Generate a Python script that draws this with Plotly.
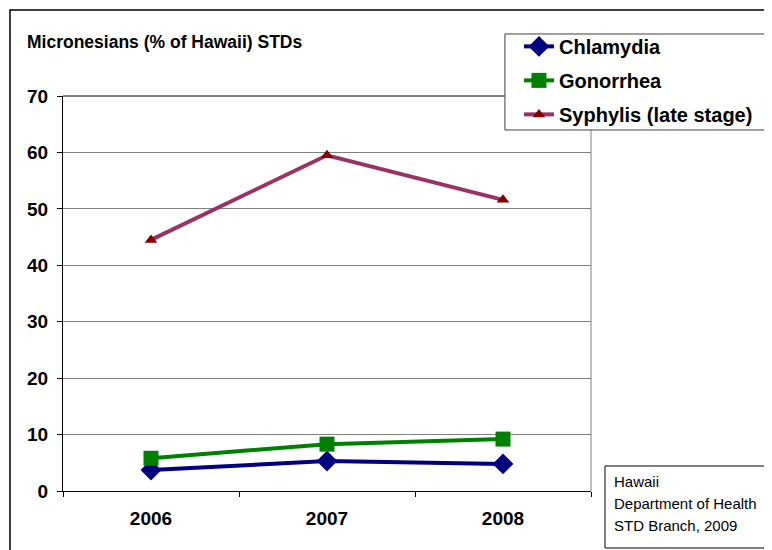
import plotly.graph_objects as go

years = ["2006", "2007", "2008"]
chlamydia = [3.7, 5.3, 4.8]
gonorrhea = [5.8, 8.3, 9.2]
syphilis = [44.5, 59.5, 51.6]
y_ticks = [0, 10, 20, 30, 40, 50, 60, 70]
source_lines = ["Hawaii", "Department of Health", "STD Branch, 2009"]

FONT = "Arial, Liberation Sans, sans-serif"

fig = go.Figure()

fig.add_trace(go.Scatter(
    x=years, y=chlamydia, name="Chlamydia", mode="lines+markers",
    line=dict(color="#000080", width=4),
    marker=dict(symbol="diamond", size=16, color="#000080"),
    legendgroup="a",
))
fig.add_trace(go.Scatter(
    x=years, y=gonorrhea, name="Gonorrhea", mode="lines+markers",
    line=dict(color="#008000", width=4),
    marker=dict(symbol="square", size=15, color="#008000"),
    legendgroup="b",
))
fig.add_trace(go.Scatter(
    x=years, y=syphilis, name="Syphylis (late stage)", mode="lines+markers",
    line=dict(color="#993366", width=4),
    marker=dict(symbol="triangle-up", size=11, color="#800000"),
    legendgroup="c",
))

# outer frame, right/top edges of plot area, legend box, source box
shapes = [
    dict(type="rect", xref="paper", yref="paper", x0=-0.1004, y0=-1.0, x1=2.0, y1=1.2177,
         line=dict(color="black", width=1.5), layer="below"),
    dict(type="line", xref="paper", yref="paper", x0=1, x1=1, y0=0, y1=1,
         line=dict(color="#808080", width=1)),
    dict(type="line", xref="paper", yref="paper", x0=0, x1=1, y0=1, y1=1,
         line=dict(color="black", width=1)),
    dict(type="rect", xref="paper", yref="paper", x0=0.837, y0=0.914, x1=1.339, y1=1.157,
         line=dict(color="#404040", width=1), fillcolor="white"),
    dict(type="rect", xref="paper", yref="paper", x0=1.0265, y0=-0.1443, x1=1.5, y1=0.0633,
         line=dict(color="black", width=1), fillcolor="white"),
]

annotations = [
    dict(text="Micronesians (% of Hawaii) STDs", xref="paper", yref="paper",
         x=-0.072, y=1.1367, xanchor="left", yanchor="middle", showarrow=False,
         font=dict(size=17.5, weight="bold")),
]
for i, line in enumerate(source_lines):
    annotations.append(dict(
        text=line, xref="paper", yref="paper",
        x=1.0398, y=0.0253 - i * 0.0557, xanchor="left", yanchor="middle",
        showarrow=False, font=dict(size=15),
    ))

fig.update_layout(
    width=772, height=550,
    # page has an 8px body margin, so pull the plot up/left by that much
    margin=dict(l=55, r=189, t=88, b=67),
    paper_bgcolor="white", plot_bgcolor="white",
    font=dict(family=FONT, color="black"),
    showlegend=True,
    legend=dict(
        x=0.8636, y=1.175, xanchor="left", yanchor="top",
        borderwidth=0, bgcolor="rgba(0,0,0,0)",
        font=dict(size=20, family=FONT, weight="bold"),
        tracegroupgap=5,
    ),
    xaxis=dict(
        showgrid=False, showline=True, linecolor="black", linewidth=1,
        ticks="outside", ticklen=5, tickcolor="black", tickson="boundaries",
        tickfont=dict(size=19, weight="bold"), range=[-0.5, 2.5],
        ticklabelstandoff=10,
    ),
    yaxis=dict(
        range=[0, 70], tickvals=y_ticks, showgrid=True, gridcolor="#808080", gridwidth=1,
        showline=True, linecolor="black", linewidth=1, zeroline=False,
        ticks="outside", ticklen=5, tickcolor="black",
        tickfont=dict(size=19, weight="bold"), ticklabelstandoff=5,
    ),
    shapes=shapes,
    annotations=annotations,
)

fig.write_html("out.html")
